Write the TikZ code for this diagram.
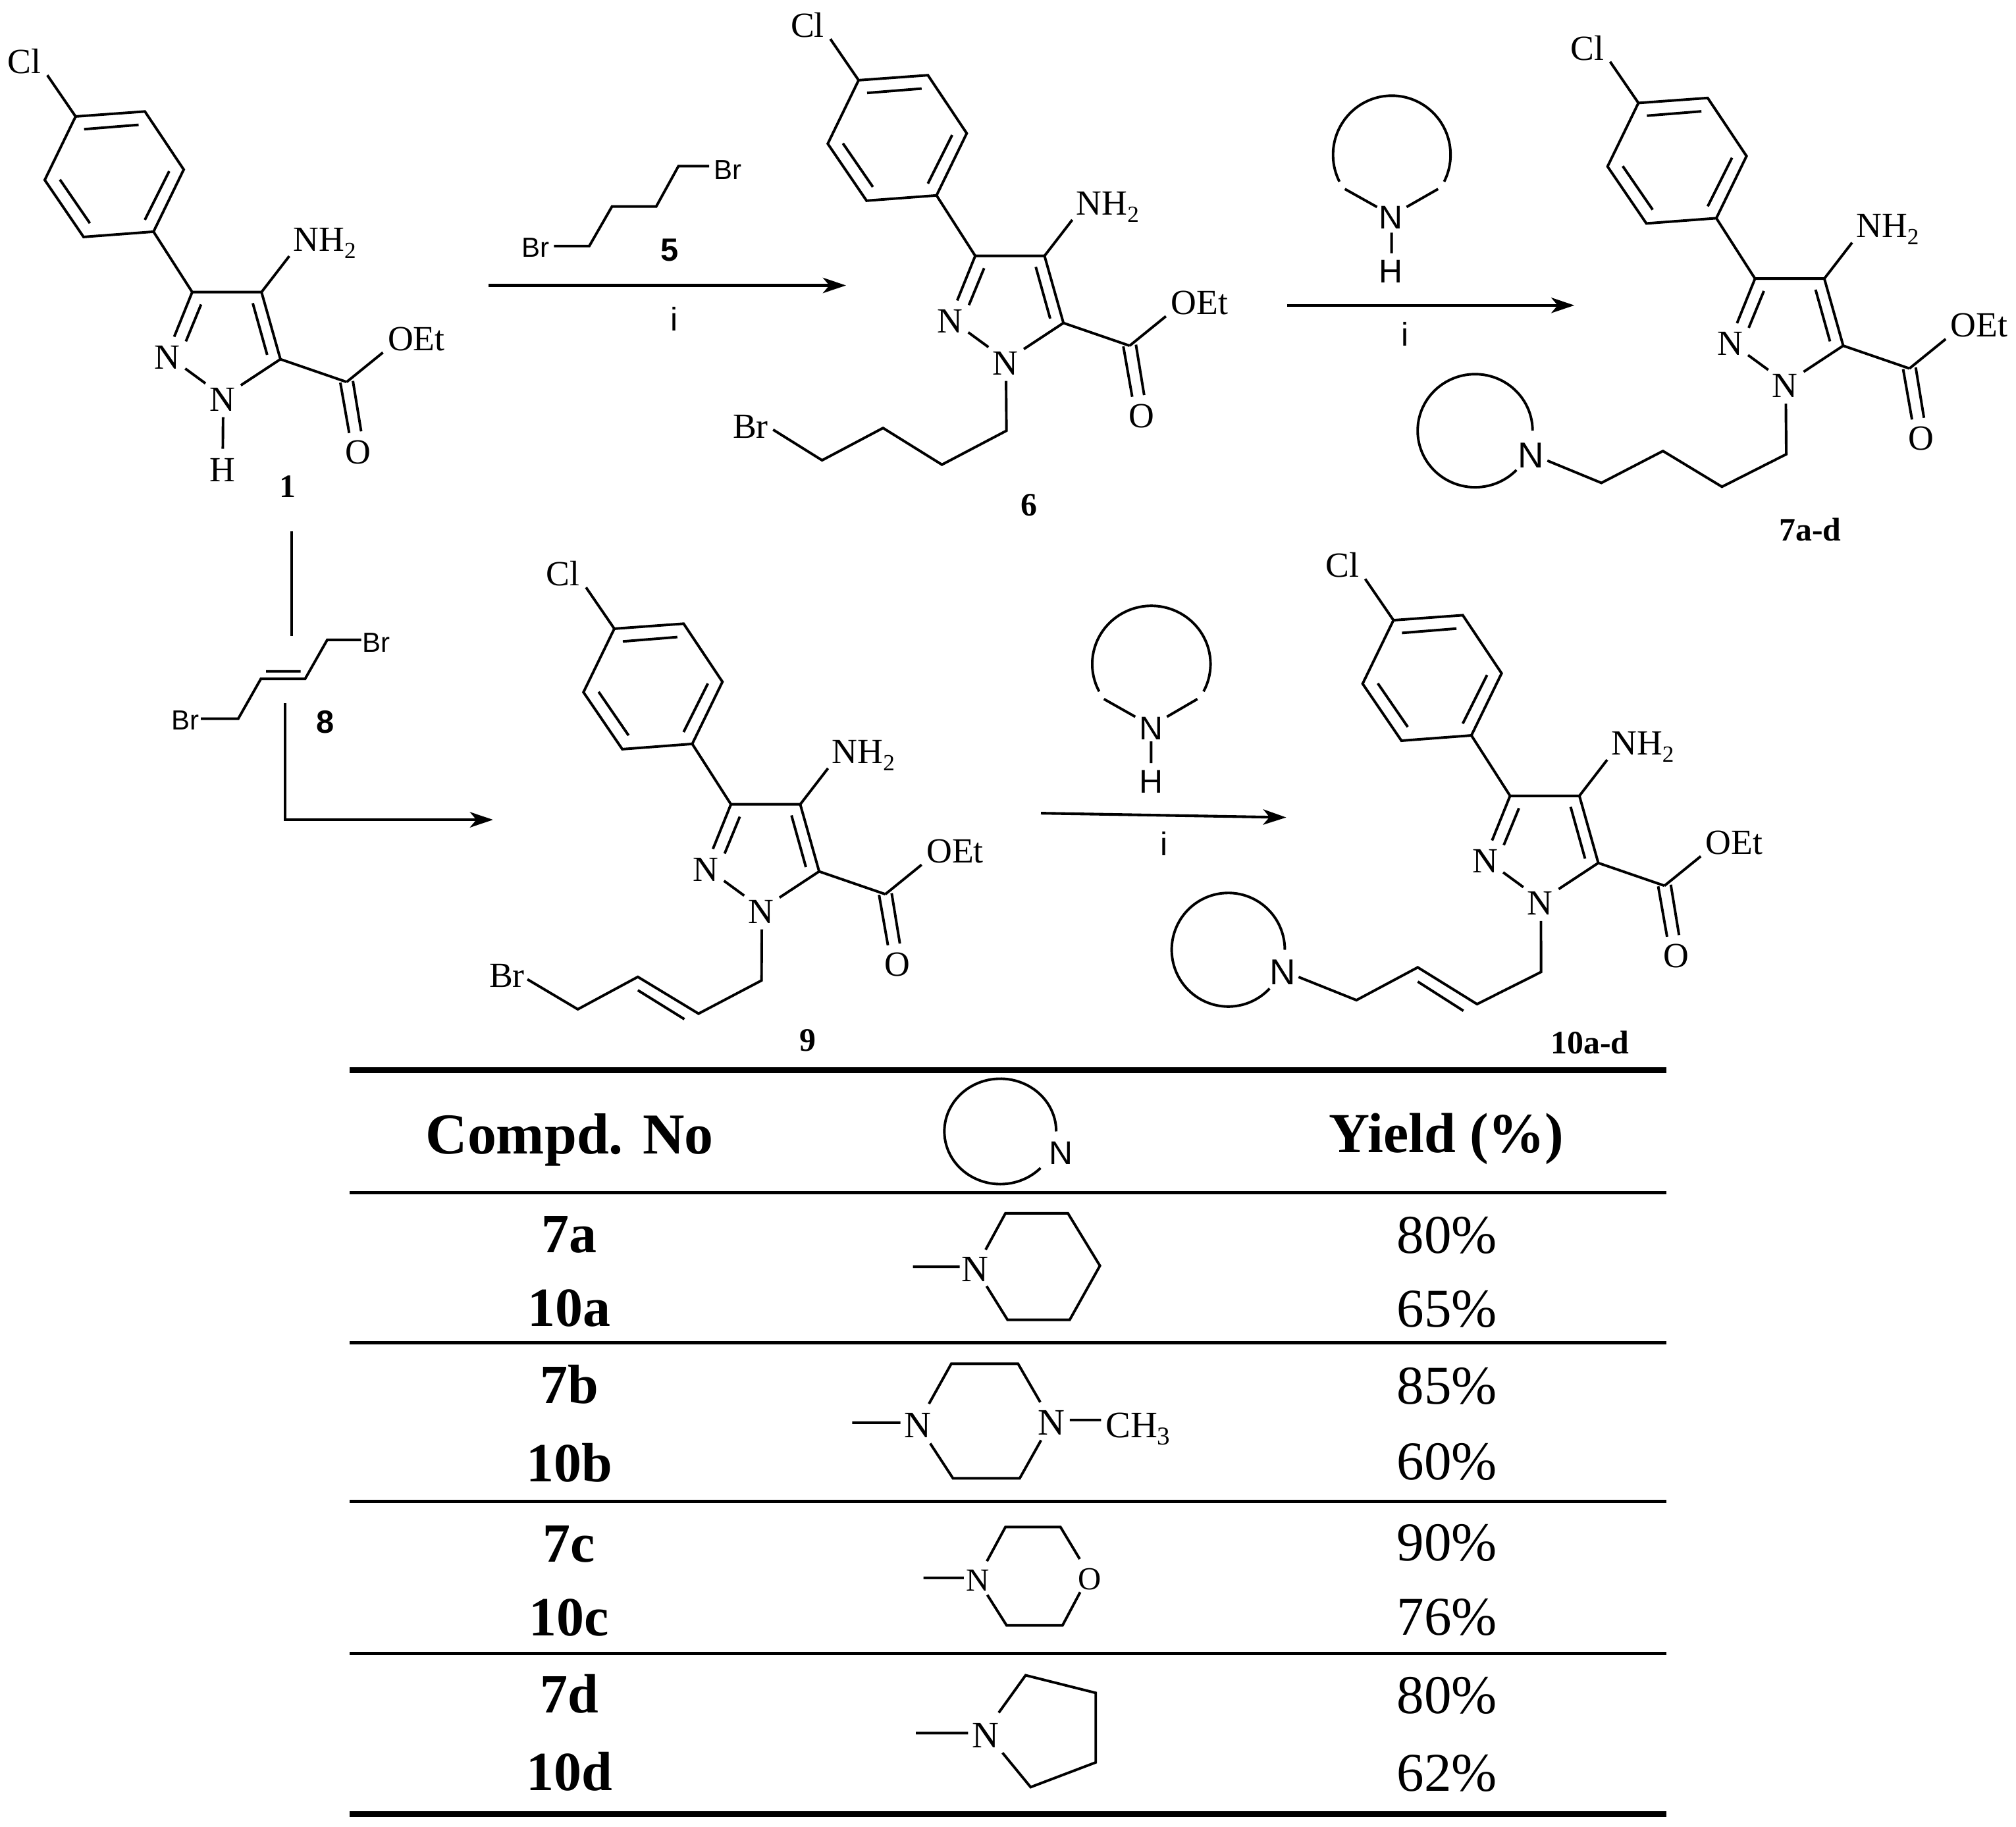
\documentclass[tikz,border=0pt]{standalone}
\usepackage{fontspec}
\setmainfont{Liberation Serif}
\setsansfont{Liberation Sans}
\usetikzlibrary{arrows.meta}
\tikzset{
  bond/.style={line width=2pt,line join=miter},
  rxn/.style={line width=2.1pt,-{Stealth[length=18pt,width=12pt,inset=5pt]}},
  plainline/.style={line width=2pt},
  atomlabel/.style={font=\fontsize{27.5}{30}\selectfont,inner sep=0pt},
  bigatom/.style={font=\fontsize{29}{32}\selectfont,inner sep=0pt},
  smallatom/.style={font=\fontsize{25}{28}\selectfont,inner sep=0pt},
  sanslabel/.style={font=\sffamily\fontsize{25.5}{28}\selectfont,inner sep=0pt},
  ringn/.style={font=\sffamily\fontsize{28}{30}\selectfont,inner sep=0pt},
  brlabel/.style={font=\sffamily\fontsize{21.5}{25}\selectfont,inner sep=0pt},
  cpdlabel/.style={font=\bfseries\fontsize{25.5}{28}\selectfont,inner sep=0pt},
  cpdsans/.style={font=\sffamily\bfseries\fontsize{25}{28}\selectfont,inner sep=0pt},
  headlabel/.style={font=\bfseries\fontsize{45}{50}\selectfont,inner sep=0pt},
  rowlabel/.style={font=\bfseries\fontsize{43}{48}\selectfont,inner sep=0pt},
  yieldlabel/.style={font=\fontsize{42.5}{46}\selectfont,inner sep=0pt},
  thickrule/.style={line width=4.8pt},
  thinrule/.style={line width=2.6pt}
}
\newcommand{\subtwo}{\raisebox{-5.5pt}{\fontsize{18}{20}\selectfont 2}}
% the repeated 4-amino-pyrazole core, #1 prefix, (#2,#3) shift
\newcommand{\pyrazole}[3]{%
\begin{scope}[shift={(#2,#3)},name prefix=#1-]
  \coordinate (r1) at (58.8,90.6);
  \coordinate (r2) at (112.7,86.7);
  \coordinate (r3) at (142.9,131.9);
  \coordinate (r4) at (119.4,180.2);
  \coordinate (r5) at (65,184.3);
  \coordinate (r6) at (34.8,140);
  \coordinate (d1a) at (65.4,100.5);
  \coordinate (d1b) at (107.8,97.1);
  \coordinate (d2a) at (131.6,133.2);
  \coordinate (d2b) at (112.7,171);
  \coordinate (d3a) at (46.6,139.7);
  \coordinate (d3b) at (69.9,173.6);
  \coordinate (clend) at (36.8,58.5);
  \coordinate (c3) at (149.5,227.2);
  \coordinate (c4) at (203.4,227.2);
  \coordinate (c5) at (218.1,279.4);
  \coordinate (cc) at (269.6,297.1);
  \coordinate (n2a) at (135.5,261.9);
  \coordinate (n2b) at (156.4,236.8);
  \coordinate (n2c) at (144.6,265.5);
  \coordinate (nna) at (144.1,286.7);
  \coordinate (nnb) at (159.8,298.2);
  \coordinate (n1c) at (187.3,299.7);
  \coordinate (d4a) at (196.6,235.8);
  \coordinate (d4b) at (207.8,276);
  \coordinate (oetend) at (297.8,274.2);
  \coordinate (o1a) at (264.7,297.6);
  \coordinate (o1b) at (271.6,336.8);
  \coordinate (o2a) at (274.5,296.3);
  \coordinate (o2b) at (280.9,335.5);
  \coordinate (nhend) at (225,199.2);
  \coordinate (nsub) at (173.5,324.5);
  \node[atomlabel] (cl) at (19,47.8) {Cl};
  \node[atomlabel] (n2) at (130,278) {N};
  \node[atomlabel] (n1) at (172.8,310.7) {N};
  \node[atomlabel,anchor=west] (oet) at (301.5,263.7) {OEt};
  \node[atomlabel] (o) at (278.7,351.7) {O};
  \node[atomlabel,anchor=base west] (nh) at (228,195.3) {NH\subtwo};
  \draw[bond] (r1)--(r2)--(r3)--(r4)--(r5)--(r6)--cycle;
  \draw[bond] (d1a)--(d1b) (d2a)--(d2b) (d3a)--(d3b);
  \draw[bond] (clend)--(r1);
  \draw[bond] (r4)--(c3)--(c4)--(c5)--(cc);
  \draw[bond] (c3)--(n2a) (n2b)--(n2c) (nna)--(nnb) (n1c)--(c5) (d4a)--(d4b);
  \draw[bond] (cc)--(oetend) (o1a)--(o1b) (o2a)--(o2b) (c4)--(nhend);
\end{scope}}
\newcommand{\arcring}[6]{\draw[plainline] plot[domain=#5:#6,samples=90] ({#1+#2*cos(\x)},{#3+#4*sin(\x)});}
\begin{document}
\begin{tikzpicture}[x=1pt,y=-1pt]
\useasboundingbox (0,0) rectangle (1568,1421);
\fill[white] (0,0) rectangle (1568,1421);

% compound 1
\pyrazole{a}{0}{0}
\coordinate (a-hb) at (173.3,349);
\node[atomlabel] (a-h) at (172.8,365.5) {H};
\draw[bond] (a-nsub)--(a-hb);
\node[cpdlabel] (cpd1) at (223.5,378.6) {1};

% reagent 5
\node[brlabel] (br5a) at (416.4,192.4) {Br};
\node[brlabel] (br5b) at (566,131.9) {Br};
\coordinate (b1) at (430.9,191.4);
\coordinate (b2) at (458.3,191.4);
\coordinate (b3) at (476,160.6);
\coordinate (b4) at (510.4,160.6);
\coordinate (b5) at (527.7,129.2);
\coordinate (b6) at (551.6,129.2);
\draw[bond] (b1)--(b2)--(b3)--(b4)--(b5)--(b6);
\node[cpdsans] (cpd5) at (521,194.5) {5};
\coordinate (ar1a) at (380,222);
\coordinate (ar1b) at (658,222);
\draw[rxn] (ar1a)--(ar1b);
\node[sanslabel] (i1) at (524.5,248) {i};

% compound 6
\pyrazole{f}{609}{-28.2}
\coordinate (f1) at (782.8,335);
\coordinate (f2) at (732.6,361.4);
\coordinate (f3) at (686.8,332.9);
\coordinate (f4) at (639.4,358);
\coordinate (f5) at (601.3,334.2);
\node[atomlabel] (f-br) at (583.7,332) {Br};
\draw[bond] (f-nsub)--(f1)--(f2)--(f3)--(f4)--(f5);
\node[cpdlabel] (cpd6) at (800.4,393) {6};

% amine reagent top
\arcring{1082.5}{45.7}{120.4}{46}{-207}{27}
\coordinate (m1) at (1046,147);
\coordinate (m2) at (1071,161);
\coordinate (m3) at (1118.5,147);
\coordinate (m4) at (1094,161);
\coordinate (m5) at (1082.3,181);
\coordinate (m6) at (1082.3,197);
\draw[bond] (m1)--(m2) (m3)--(m4) (m5)--(m6);
\node[sanslabel] (m-n) at (1082,169.4) {N};
\node[sanslabel] (m-h) at (1082,211) {H};
\coordinate (ar2a) at (1001,237.5);
\coordinate (ar2b) at (1224.5,237.5);
\draw[rxn] (ar2a)--(ar2b);
\node[sanslabel] (i2) at (1092.7,260) {i};

% compound 7
\pyrazole{g}{1215.5}{-10.5}
\coordinate (g1) at (1389.3,353.3);
\coordinate (g2) at (1339.3,378.6);
\coordinate (g3) at (1293.4,350.8);
\coordinate (g4) at (1245.5,375.6);
\coordinate (g5) at (1203.5,358.3);
\draw[bond] (g-nsub)--(g1)--(g2)--(g3)--(g4)--(g5);
\arcring{1147.3}{44.7}{335}{44}{-316}{0}
\node[ringn] (g-n) at (1190.7,354.2) {N};
\node[cpdlabel] (cpd7) at (1408,412) {7a-d};

% reagent 8 and bent arrow
\coordinate (t1) at (226.7,413.4);
\coordinate (t2) at (226.7,494.9);
\draw[plainline] (t1)--(t2);
\node[brlabel] (br8a) at (144.3,560) {Br};
\node[brlabel] (br8b) at (292.9,499.7) {Br};
\coordinate (e1) at (156.2,559);
\coordinate (e2) at (185.3,559);
\coordinate (e3) at (202.9,528);
\coordinate (e4) at (237.3,528);
\coordinate (e5) at (254.5,497.7);
\coordinate (e6) at (281,497.7);
\coordinate (e7) at (206.9,522.2);
\coordinate (e8) at (233.8,522.2);
\draw[bond] (e1)--(e2)--(e3)--(e4)--(e5)--(e6) (e7)--(e8);
\node[cpdsans] (cpd8) at (253.2,561.8) {8};
\coordinate (ar3a) at (221.5,546.9);
\coordinate (ar3b) at (383.5,637.6);
\draw[rxn] (ar3a)|-(ar3b);

% compound 9
\pyrazole{n}{419}{398.4}
\coordinate (n1x) at (592.3,762.6);
\coordinate (n2x) at (543.3,788.4);
\coordinate (n3x) at (496.1,759.8);
\coordinate (n4x) at (449.4,785);
\coordinate (n5x) at (410.2,761.7);
\coordinate (n6x) at (496.1,770.2);
\coordinate (n7x) at (532.3,792.7);
\node[atomlabel] (n-br) at (394.3,759) {Br};
\draw[bond] (n-nsub)--(n1x)--(n2x)--(n3x)--(n4x)--(n5x) (n6x)--(n7x);
\node[cpdlabel] (cpd9) at (628.4,809) {9};

% amine reagent bottom
\arcring{895.5}{46}{516.5}{45.3}{-208}{28}
\coordinate (k1) at (858.6,543.7);
\coordinate (k2) at (883,557.5);
\coordinate (k3) at (931.3,543.7);
\coordinate (k4) at (907.6,557.5);
\coordinate (k5) at (895.3,576.7);
\coordinate (k6) at (895.3,593.6);
\draw[bond] (k1)--(k2) (k3)--(k4) (k5)--(k6);
\node[sanslabel] (k-n) at (895.3,566.4) {N};
\node[sanslabel] (k-h) at (895.3,608) {H};
\coordinate (ar4a) at (809.6,632.5);
\coordinate (ar4b) at (1000.4,635.8);
\draw[rxn] (ar4a)--(ar4b);
\node[sanslabel] (i3) at (905.6,656) {i};

% compound 10
\pyrazole{p}{1025}{391.8}
\coordinate (p1) at (1198.6,756);
\coordinate (p2) at (1148.8,781);
\coordinate (p3) at (1102.7,752.4);
\coordinate (p4) at (1055,777.9);
\coordinate (p5) at (1010,759.9);
\coordinate (p6) at (1102.7,763.5);
\coordinate (p7) at (1138.2,786.2);
\draw[bond] (p-nsub)--(p1)--(p2)--(p3)--(p4)--(p5) (p6)--(p7);
\arcring{955.3}{44}{738.7}{44.2}{-317}{0}
\node[ringn] (p-n) at (997.4,756) {N};
\node[cpdlabel] (cpd10) at (1236.6,810.7) {10a-d};

% table rules
\draw[thickrule] (272,832.4)--(1296,832.4);
\draw[thinrule] (272,927.5)--(1296,927.5);
\draw[thinrule] (272,1044.6)--(1296,1044.6);
\draw[thinrule] (272,1168)--(1296,1168);
\draw[thinrule] (272,1286)--(1296,1286);
\draw[thickrule] (272,1411)--(1296,1411);

% header
\node[headlabel] (h1) at (443,886.5) {Compd. No};
\arcring{778}{43.5}{880}{41}{-316}{0}
\node[sanslabel] (h2) at (825,897) {N};
\node[headlabel,font=\bfseries\fontsize{44}{50}\selectfont] (h3) at (1125,886) {Yield (\%)};

% rows
\node[rowlabel] (l1) at (442.7,960.5) {7a};
\node[rowlabel] (l2) at (442.7,1017.5) {10a};
\node[rowlabel] (l3) at (442.7,1077) {7b};
\node[rowlabel] (l4) at (442.7,1137.5) {10b};
\node[rowlabel] (l5) at (442.7,1201) {7c};
\node[rowlabel] (l6) at (442.7,1258.4) {10c};
\node[rowlabel] (l7) at (442.7,1317.5) {7d};
\node[rowlabel] (l8) at (442.7,1378) {10d};
\node[yieldlabel] (y1) at (1125.5,961) {80\%};
\node[yieldlabel] (y2) at (1125.5,1018) {65\%};
\node[yieldlabel] (y3) at (1125.5,1078) {85\%};
\node[yieldlabel] (y4) at (1125.5,1137) {60\%};
\node[yieldlabel] (y5) at (1125.5,1200) {90\%};
\node[yieldlabel] (y6) at (1125.5,1258) {76\%};
\node[yieldlabel] (y7) at (1125.5,1319) {80\%};
\node[yieldlabel] (y8) at (1125.5,1379) {62\%};

% piperidine
\node[bigatom] (pd-n) at (758.5,987.4) {N};
\coordinate (pd1) at (766.6,972);
\coordinate (pd2) at (782,943.7);
\coordinate (pd3) at (830.6,943.7);
\coordinate (pd4) at (855.5,984.5);
\coordinate (pd5) at (832,1026.5);
\coordinate (pd6) at (783.6,1026.5);
\coordinate (pd7) at (767.3,1000.3);
\coordinate (pd8) at (710.1,985.3);
\coordinate (pd9) at (746.4,985.3);
\draw[bond] (pd1)--(pd2)--(pd3)--(pd4)--(pd5)--(pd6)--(pd7) (pd8)--(pd9);

% piperazine
\node[bigatom] (pz-n1) at (713.7,1108.6) {N};
\node[bigatom] (pz-n2) at (817.9,1106.5) {N};
\node[bigatom,anchor=base west] (pz-ch) at (859.7,1118) {CH\raisebox{-5.5pt}{\fontsize{20}{22}\selectfont 3}};
\coordinate (pz1) at (722.5,1091.9);
\coordinate (pz2) at (739.9,1060.7);
\coordinate (pz3) at (791.8,1060.7);
\coordinate (pz4) at (809.1,1090.6);
\coordinate (pz5) at (723.5,1122.7);
\coordinate (pz6) at (741.2,1149.8);
\coordinate (pz7) at (793.1,1149.8);
\coordinate (pz8) at (809.7,1120.2);
\coordinate (pz9) at (662.8,1106.5);
\coordinate (pz10) at (700.3,1106.5);
\coordinate (pz11) at (832,1104.4);
\coordinate (pz12) at (856.4,1104.4);
\draw[bond] (pz1)--(pz2)--(pz3)--(pz4) (pz5)--(pz6)--(pz7)--(pz8) (pz9)--(pz10) (pz11)--(pz12);

% morpholine
\node[smallatom] (mo-n) at (760.7,1229.3) {N};
\node[smallatom] (mo-o) at (847.3,1228) {O};
\coordinate (mo1) at (767.6,1214.3);
\coordinate (mo2) at (782,1187.7);
\coordinate (mo3) at (824.8,1187.7);
\coordinate (mo4) at (839.8,1212.6);
\coordinate (mo5) at (840.1,1238.4);
\coordinate (mo6) at (826.4,1264.2);
\coordinate (mo7) at (782.9,1264.2);
\coordinate (mo8) at (767.9,1240.5);
\coordinate (mo9) at (718.3,1227.2);
\coordinate (mo10) at (749.6,1227.2);
\draw[bond] (mo1)--(mo2)--(mo3)--(mo4) (mo5)--(mo6)--(mo7)--(mo8) (mo9)--(mo10);

% pyrrolidine
\node[bigatom] (py-n) at (766.6,1349.6) {N};
\coordinate (py1) at (776.8,1332.1);
\coordinate (py2) at (797.7,1303);
\coordinate (py3) at (852.2,1316.7);
\coordinate (py4) at (852.2,1370.8);
\coordinate (py5) at (801.6,1390);
\coordinate (py6) at (779.7,1363.3);
\coordinate (py7) at (712.4,1348);
\coordinate (py8) at (752.9,1348);
\draw[bond] (py1)--(py2)--(py3)--(py4)--(py5)--(py6) (py7)--(py8);
\end{tikzpicture}
\end{document}
